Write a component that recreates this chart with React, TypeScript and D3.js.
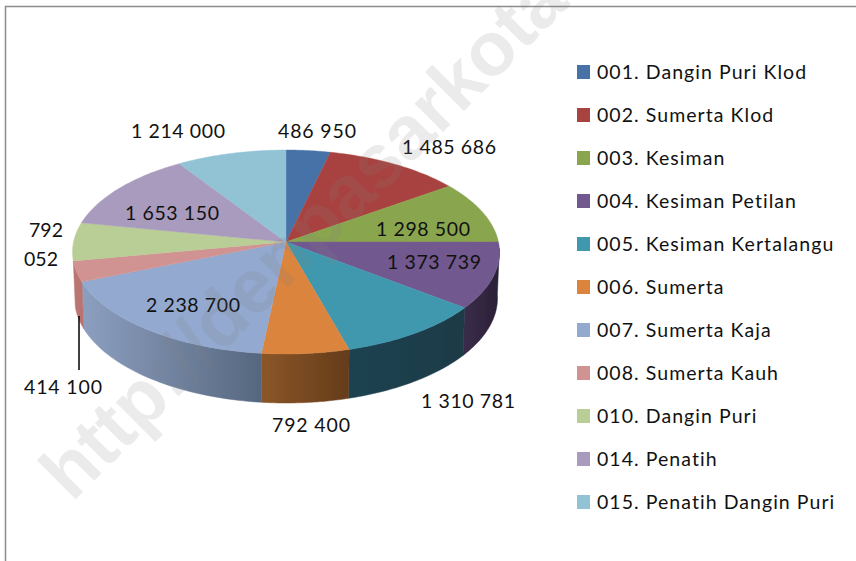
import React from "react";
import * as d3 from "d3";

// Labelled values, as printed on the chart
const names = ["001. Dangin Puri Klod","002. Sumerta Klod","003. Kesiman","004. Kesiman Petilan","005. Kesiman Kertalangu","006. Sumerta","007. Sumerta Kaja","008. Sumerta Kauh","010. Dangin Puri","014. Penatih","015. Penatih Dangin Puri"];
const values = [486950,1485686,1298500,1373739,1310781,792400,2238700,414100,792052,1653150,1214000];
// Apparent sweep of each slice in the picture, in degrees (perspective distorts it from the values)
const apparentSweep = [12,37.8,34.6,38.8,39.6,23.8,66.4,12,21.6,43.4,30];
const colors = ["#4672a8","#a84340","#89a54e","#71588f","#4098af","#db843d","#93a9cf","#d19392","#b9cd96","#a99bbd","#91c3d5"];
const sideFrom = ["#333","#333","#333","#3a2c4a","#1b4351","#8b5628","#8d9fc0","#bb7774","#8f9f74","#333","#333"];
const sideTo = ["#333","#333","#333","#2a2036","#1a3a46","#653c1a","#56677f","#b87370","#8f9f74","#333","#333"];
const labelPos: [number, number][] = [[317,131],[449,147],[423,229],[434,262],[468,401],[311,425],[193,305],[63,387],[41,230],[172,213],[178,131]];

const fmt = (v: number) => String(v).replace(/\B(?=(\d{3})+$)/g, " ");
const font = "Lato, 'Open Sans', sans-serif";

const cx = 286, cy = 252, rx = 213.5, ry = 102;
const apex: [number, number] = [286, 242];
const bx = 286, by = 298, brx = 211.5, bry = 105;

const pie = d3.pie<number>().sort(null).startAngle(0).endAngle(2 * Math.PI);
const arcs = pie(apparentSweep);

const top = (t: number): [number, number] => [cx + rx * Math.sin(t), cy - ry * Math.cos(t)];
const bottom = (t: number): [number, number] => [bx + brx * Math.sin(t), by - bry * Math.cos(t)];
const line = d3.line();
const sample = (a: number, b: number) => d3.range(0, 41).map((i) => a + ((b - a) * i) / 40);

export default function App() {
  const sideMin = (88 * Math.PI) / 180, sideMax = (265 * Math.PI) / 180;
  const ys = d3.scalePoint<number>().domain(d3.range(names.length)).range([72, 502]);
  return (
    <svg width={856} height={561} style={{ position: "absolute", left: 0, top: 0, background: "#fff" }}>
      <defs>
        {arcs.map((a, i) => {
          const x0 = top(Math.max(a.startAngle, sideMin))[0];
          const x1 = top(Math.min(a.endAngle, sideMax))[0];
          return (
            <linearGradient key={i} id={`g${i}`} gradientUnits="userSpaceOnUse" x1={Math.min(x0, x1)} x2={Math.max(x0, x1)} y1={0} y2={0}>
              <stop offset="0" stopColor={sideFrom[i]} />
              <stop offset="1" stopColor={sideTo[i]} />
            </linearGradient>
          );
        })}
        <filter id="soft"><feGaussianBlur stdDeviation="0.35" /></filter>
      </defs>
      <path d="M5.5 561V6.5H856" fill="none" stroke="#8c8c8c" strokeWidth={1.5} />
      <g filter="url(#soft)">
        {arcs.map((a, i) => {
          const s = Math.max(a.startAngle, sideMin), e = Math.min(a.endAngle, sideMax);
          if (e <= s) return null;
          const ts = sample(s, e);
          const pts = [...ts.map(top), ...ts.slice().reverse().map(bottom)];
          return <path key={i} d={line(pts)! + "Z"} fill={`url(#g${i})`} stroke={`url(#g${i})`} strokeWidth={0.5} />;
        })}
        {arcs.map((a, i) => {
          const pts = [apex, ...sample(a.startAngle, a.endAngle).map(top)];
          return <path key={i} d={line(pts)! + "Z"} fill={colors[i]} stroke={colors[i]} strokeWidth={0.4} />;
        })}
      </g>
      <line x1={79} x2={79} y1={316} y2={370} stroke="#000" strokeWidth={1.5} />
      <g fontFamily={font} fontSize={19.5} fill="#111" textAnchor="middle">
        {values.map((v, i) => {
          const [x, y] = labelPos[i];
          const parts = fmt(v);
          if (v === 792052) {
            return (
              <g key={i}>
                <text x={46} y={y + 7}>792</text>
                <text x={41} y={y + 36}>052</text>
              </g>
            );
          }
          return <text key={i} x={x} y={y + 7} textLength={parts.length > 7 ? 94 : 78} lengthAdjust="spacing">{parts}</text>;
        })}
      </g>
      <g>
        {names.map((n, i) => (
          <g key={n}>
            <rect x={577} y={ys(i)! - 7} width={13} height={14} fill={colors[i]} />
            <text x={597} y={ys(i)! + 7} fontFamily={font} fontSize={19.5} fill="#111" letterSpacing={1.05}>{n}</text>
          </g>
        ))}
      </g>
      <text transform="translate(72,503) rotate(-45)" fontFamily="'Liberation Sans', Arial, sans-serif" fontWeight={700} fontSize={76} fill="#808080" fillOpacity={0.16} stroke="#808080" strokeOpacity={0.16} strokeWidth={0}>http://denpasarkota.</text>
    </svg>
  );
}
